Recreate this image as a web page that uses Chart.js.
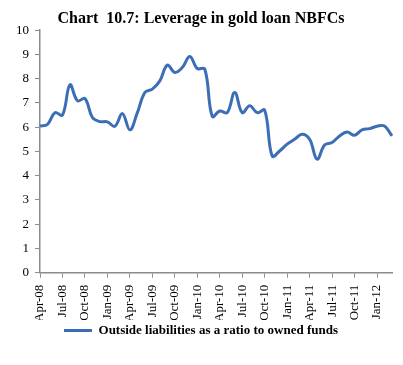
<!DOCTYPE html>
<html>
<head>
<meta charset="utf-8">
<script src="https://cdn.jsdelivr.net/npm/chart.js@4"></script>
<style>
    body { margin: 0; background: #fff; }
    #wrap { width: 403px; height: 365px; }
</style>
</head>
<body>
<div id="wrap"><canvas id="leverageChart" width="403" height="365"></canvas></div>
<script>
// months, Apr-08 .. Mar-12
const months = [
    'Apr-08', 'May-08', 'Jun-08', 'Jul-08', 'Aug-08', 'Sep-08', 'Oct-08', 'Nov-08', 'Dec-08',
    'Jan-09', 'Feb-09', 'Mar-09', 'Apr-09', 'May-09', 'Jun-09', 'Jul-09', 'Aug-09', 'Sep-09',
    'Oct-09', 'Nov-09', 'Dec-09', 'Jan-10', 'Feb-10', 'Mar-10', 'Apr-10', 'May-10', 'Jun-10',
    'Jul-10', 'Aug-10', 'Sep-10', 'Oct-10', 'Nov-10', 'Dec-10', 'Jan-11', 'Feb-11', 'Mar-11',
    'Apr-11', 'May-11', 'Jun-11', 'Jul-11', 'Aug-11', 'Sep-11', 'Oct-11', 'Nov-11', 'Dec-11',
    'Jan-12', 'Feb-12', 'Mar-12'
];

// outside liabilities / owned funds
const leverage = [
    6.05, 6.12, 6.6, 6.5, 7.75, 7.09, 7.18, 6.4, 6.23,
    6.22, 6.04, 6.56, 5.89, 6.6, 7.43, 7.57, 7.91, 8.56,
    8.26, 8.46, 8.92, 8.42, 8.4, 6.45, 6.67, 6.6, 7.43,
    6.6, 6.88, 6.6, 6.7, 4.81, 5.02, 5.3, 5.5, 5.71,
    5.5, 4.68, 5.27, 5.37, 5.64, 5.8, 5.67, 5.89, 5.94,
    6.04, 6.05, 5.64
];

const yTicks = [0, 1, 2, 3, 4, 5, 6, 7, 8, 9, 10];

const serif = "'Liberation Serif', 'Times New Roman', serif";
const axisGrey = '#8c8c8c';

const ctx = document.getElementById('leverageChart').getContext('2d');

new Chart(ctx, {
    type: 'line',
    data: {
        labels: months,
        datasets: [{
            label: 'Outside liabilities as a ratio to owned funds',
            data: leverage,
            borderColor: '#3c6eb6',
            backgroundColor: '#3c6eb6',
            borderWidth: 3,
            pointRadius: 0,
            tension: 0.4,
            fill: false
        }]
    },
    options: {
        responsive: false,
        animation: false,
        layout: {
            padding: { left: 10, right: 11, top: 0, bottom: 18 }
        },
        scales: {
            x: {
                offset: false,
                // no extra side room for the rotated labels, a bit less room below them
                afterFit: (scale) => {
                    scale.paddingLeft = 0;
                    scale.paddingRight = 0;
                    scale.height -= 9;
                },
                grid: {
                    drawOnChartArea: false,
                    drawTicks: true,
                    tickLength: 5,
                    tickColor: (c) => (c.index % 3 === 0 ? axisGrey : 'rgba(0,0,0,0)')
                },
                border: { color: axisGrey, width: 1.5 },
                ticks: {
                    autoSkip: false,
                    maxRotation: 90,
                    minRotation: 90,
                    padding: 7,
                    color: '#000',
                    font: { family: serif, size: 13 },
                    callback: function(value, index) {
                        return index % 3 === 0 ? months[index] : '';
                    }
                }
            },
            y: {
                min: 0,
                max: 10,
                afterBuildTicks: (axis) => {
                    axis.ticks = yTicks.map(v => ({ value: v }));
                },
                grid: {
                    drawOnChartArea: false,
                    drawTicks: true,
                    tickLength: 5,
                    tickColor: axisGrey
                },
                border: { color: axisGrey, width: 1.5 },
                ticks: {
                    padding: 6,
                    color: '#000',
                    font: { family: serif, size: 13 }
                }
            }
        },
        plugins: {
            title: {
                display: true,
                text: 'Chart  10.7: Leverage in gold loan NBFCs',
                color: '#000',
                font: { family: serif, size: 16, weight: 'bold' },
                padding: { top: 9, bottom: 2 }
            },
            legend: {
                position: 'bottom',
                labels: {
                    usePointStyle: true,
                    pointStyle: 'line',
                    pointStyleWidth: 28,
                    color: '#000',
                    font: { family: serif, size: 13, weight: 'bold' },
                    padding: 4
                }
            },
            tooltip: { enabled: false }
        }
    }
});
</script>
</body>
</html>
